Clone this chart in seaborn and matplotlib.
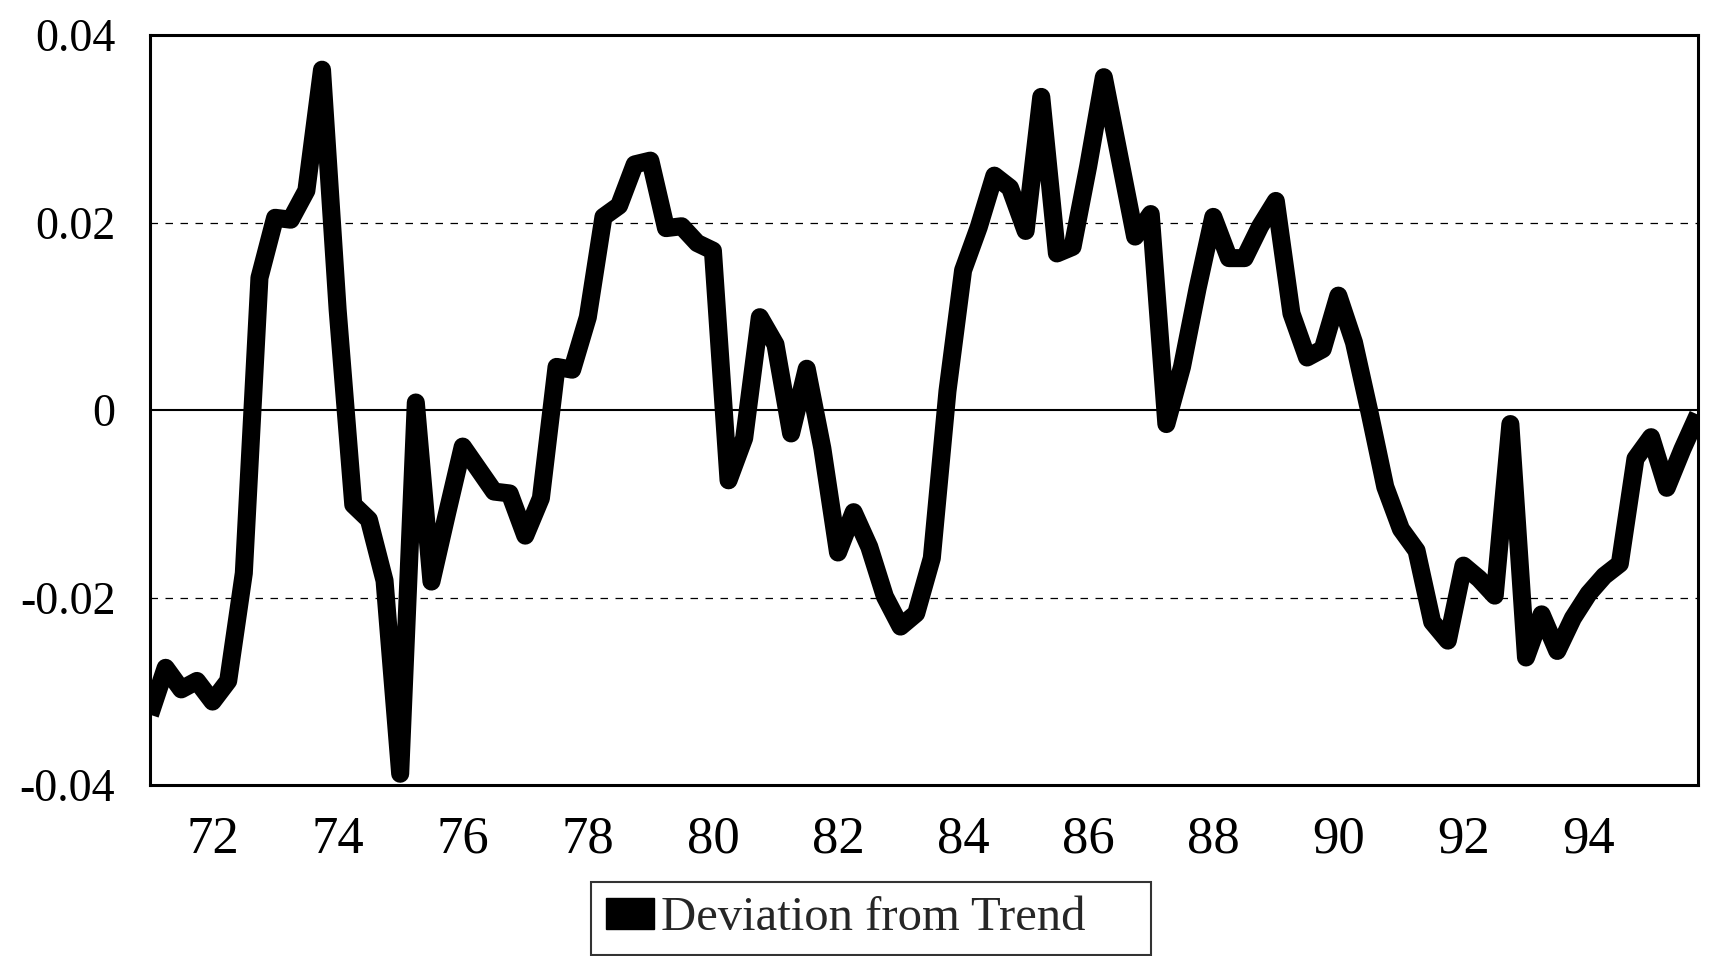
import matplotlib
matplotlib.use("Agg")
import matplotlib.pyplot as plt
import seaborn as sns
import pandas as pd
import numpy as np
from matplotlib.patches import Patch

# ---- data (quarterly, 1971Q1 - 1995Q4) ----
start_year = 1971
deviation = [
    -0.0325, -0.0275, -0.0298, -0.0289, -0.0311, -0.0289, -0.0174, 0.0141, 0.0205, 0.0203,
    0.0234, 0.0363, 0.0107, -0.0101, -0.0117, -0.0182, -0.0388, 0.0008, -0.0183, -0.0110,
    -0.0039, -0.0063, -0.0087, -0.0089, -0.0134, -0.0094, 0.0046, 0.0043, 0.0099, 0.0206,
    0.0218, 0.0262, 0.0266, 0.0194, 0.0196, 0.0178, 0.0170, -0.0075, -0.0030, 0.0099,
    0.0070, -0.0025, 0.0044, -0.0041, -0.0152, -0.0109, -0.0146, -0.0199, -0.0231, -0.0217,
    -0.0158, 0.0020, 0.0149, 0.0195, 0.0250, 0.0237, 0.0191, 0.0334, 0.0167, 0.0174,
    0.0260, 0.0355, 0.0270, 0.0185, 0.0209, -0.0015, 0.0046, 0.0130, 0.0206, 0.0162,
    0.0162, 0.0196, 0.0223, 0.0103, 0.0056, 0.0065, 0.0122, 0.0072, -0.0003, -0.0082,
    -0.0127, -0.0150, -0.0226, -0.0246, -0.0166, -0.0180, -0.0198, -0.0015, -0.0264, -0.0218,
    -0.0257, -0.0222, -0.0196, -0.0177, -0.0164, -0.0052, -0.0029, -0.0083, -0.0042, -0.0005,
]
tick_years = [1972, 1974, 1976, 1978, 1980, 1982, 1984, 1986, 1988, 1990, 1992, 1994]
tick_labels = ["72", "74", "76", "78", "80", "82", "84", "86", "88", "90", "92", "94"]
ytick_values = [0.04, 0.02, 0.0, -0.02, -0.04]
ytick_labels = ["0.04", "0.02", "0", "-0.02", "-0.04"]
series_name = "Deviation from Trend"

sns.set_theme(style="white")
plt.rcParams['font.family'] = ['Liberation Serif', 'DejaVu Serif']

W, H = 1716, 956
fig = plt.figure(figsize=(W / 100, H / 100), dpi=100)
ax = fig.add_axes([150 / W, 1 - 785 / H, 1548 / W, 750 / H])

df = pd.DataFrame({"q": np.arange(len(deviation)), "dev": deviation})
sns.lineplot(data=df, x="q", y="dev", ax=ax, color="black", linewidth=13,
             legend=False, zorder=3)
ln = ax.lines[0]
ln.set_solid_joinstyle('round')
ln.set_solid_capstyle('butt')

ax.set_xlim(0, len(deviation) - 1)
ax.set_ylim(-0.04, 0.04)

ax.axhline(0, color='black', lw=1.5, zorder=2)
for y in (0.02, -0.02):
    ax.axhline(y, color='black', lw=0.9, ls=(0, (6, 6)), zorder=1)

ax.set_yticks(ytick_values)
ax.set_yticklabels(ytick_labels, fontsize=33)
tick_pos = [(yr - start_year) * 4 for yr in tick_years]
ax.set_xticks(tick_pos)
ax.set_xticklabels(tick_labels, fontsize=38)
ax.tick_params(axis='y', length=0, pad=25, colors='black')
ax.tick_params(axis='x', length=0, pad=22, colors='black')
ax.set_xlabel("")
ax.set_ylabel("")

for s in ax.spines.values():
    s.set_color('black')
    s.set_linewidth(2.2)
    s.set_visible(True)

leg = fig.legend(handles=[Patch(facecolor='black', edgecolor='black')],
                 labels=[series_name], loc='lower left', mode='expand',
                 bbox_to_anchor=(591 / W, 1 / H, 560 / W, 76 / H),
                 bbox_transform=fig.transFigure,
                 frameon=True, fancybox=False, fontsize=35,
                 handlelength=1.0, handleheight=0.6, handletextpad=0.15,
                 borderpad=0.3, borderaxespad=0)
leg.get_frame().set_edgecolor('black')
leg.get_frame().set_linewidth(1.5)

fig.savefig("out.png", dpi=100, facecolor='white')
